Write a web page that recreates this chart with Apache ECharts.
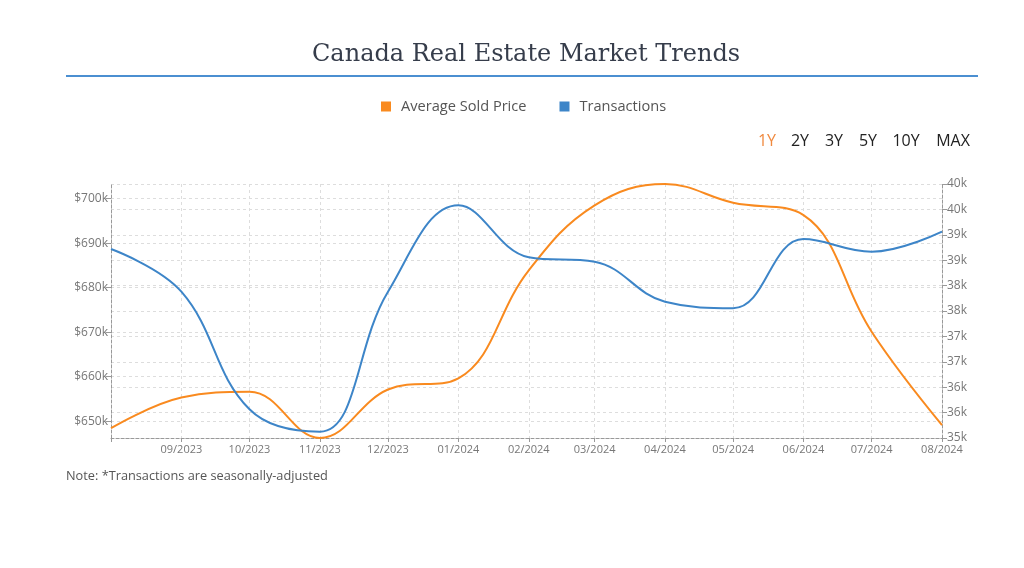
<!DOCTYPE html>
<html><head><meta charset="utf-8">
<script src="https://cdn.jsdelivr.net/npm/echarts@6/dist/echarts.min.js"></script>
<style>html,body{margin:0;padding:0;background:#fff}#c{width:1024px;height:568px}</style>
</head><body><div id="c"></div>
<script>
const months = ['2023-08','2023-09','2023-10','2023-11','2023-12','2024-01','2024-02','2024-03','2024-04','2024-05','2024-06','2024-07','2024-08'];
const avgPrice = [648400, 655300, 656600, 646200, 657100, 659600, 683900, 698500, 703300, 699100, 696300, 670100, 649100];
const transactions = [38720, 37880, 35565, 35124, 37880, 39580, 38557, 38470, 37683, 37553, 38917, 38667, 39061];
const priceTicks = [650000, 660000, 670000, 680000, 690000, 700000];
const rangeButtons = ['1Y','2Y','3Y','5Y','10Y','MAX'];

const ts = months.map(m => { const [y, mo] = m.split('-').map(Number); return Date.UTC(y, mo - 1, 1); });
const orange = '#f98a1f', blue = '#3d85c8';
const chart = echarts.init(document.getElementById('c'));
const btnX = [767, 800, 834, 868, 906, 953];
chart.setOption({
  animation: false,
  title: { text: 'Canada Real Estate Market Trends', left: 307, top: 38,
    textStyle: { fontFamily: 'DejaVu Serif', fontSize: 24, fontWeight: 'normal', color: '#363d4b' } },
  legend: { top: 94, left: 376, icon: 'rect', itemWidth: 10, itemHeight: 10, itemGap: 33,
    textStyle: { fontFamily: 'Open Sans', fontSize: 14.6, color: '#555', padding: [0, 0, 0, 5] },
    data: ['Average Sold Price', 'Transactions'] },
  graphic: [
    { type: 'rect', shape: { x: 66, y: 75, width: 912, height: 2 }, style: { fill: '#4b8fd1' } },
    ...rangeButtons.map((t, i) => ({ type: 'text', x: btnX[i], y: 141,
      style: { text: t, fill: i === 0 ? '#f0893e' : '#222', font: '16px "Open Sans"', textAlign: 'center', textVerticalAlign: 'middle' } })),
    { type: 'text', x: 66, y: 476, style: { text: 'Note: *Transactions are seasonally-adjusted', fill: '#555', font: '12.75px "Open Sans"', textVerticalAlign: 'middle' } }
  ],
  grid: { left: 111, right: 82, top: 184, bottom: 130 },
  xAxis: {
    type: 'value', min: ts[0], max: ts[ts.length - 1],
    axisLine: { lineStyle: { color: '#999', type: [3, 2] } },
    axisTick: { show: true, length: 4, lineStyle: { color: '#999' }, customValues: ts },
    axisLabel: { customValues: ts.slice(1), color: '#777', fontFamily: 'Open Sans', fontSize: 11, margin: 6,
      formatter: v => { const d = new Date(v); return String(d.getUTCMonth() + 1).padStart(2, '0') + '/' + d.getUTCFullYear(); } },
    splitLine: { show: true, lineStyle: { color: '#ddd', type: [3, 3] } }
  },
  yAxis: [
    { type: 'value', min: 646200, max: 703300, position: 'left',
      axisLine: { show: true, lineStyle: { color: '#999', type: [3, 2] } },
      axisTick: { show: true, length: 5, lineStyle: { color: '#999' }, customValues: priceTicks },
      axisLabel: { customValues: priceTicks, color: '#777', fontFamily: 'Open Sans', fontSize: 12, margin: 3,
        formatter: v => '$' + Math.round(v / 1000) + 'k' },
      splitLine: { show: true, lineStyle: { color: '#ddd', type: [3, 3] } } },
    { type: 'value', min: 35000, max: 40000, interval: 500, position: 'right',
      axisLine: { show: true, lineStyle: { color: '#999', type: [3, 2] } },
      axisTick: { show: true, length: 5, lineStyle: { color: '#999' } },
      axisLabel: { color: '#777', fontFamily: 'Open Sans', fontSize: 12, margin: 5,
        formatter: v => Math.round(v / 1000) + 'k' },
      splitLine: { show: true, lineStyle: { color: '#ddd', type: [3, 3] } } }
  ],
  series: [
    { name: 'Average Sold Price', type: 'line', yAxisIndex: 0, smooth: 0.4, showSymbol: false,
      itemStyle: { color: orange }, lineStyle: { color: orange, width: 2 },
      data: ts.map((t, i) => [t, avgPrice[i]]) },
    { name: 'Transactions', type: 'line', yAxisIndex: 1, smooth: 0.4, showSymbol: false,
      itemStyle: { color: blue }, lineStyle: { color: blue, width: 2 },
      data: ts.map((t, i) => [t, transactions[i]]) }
  ]
});
</script></body></html>
